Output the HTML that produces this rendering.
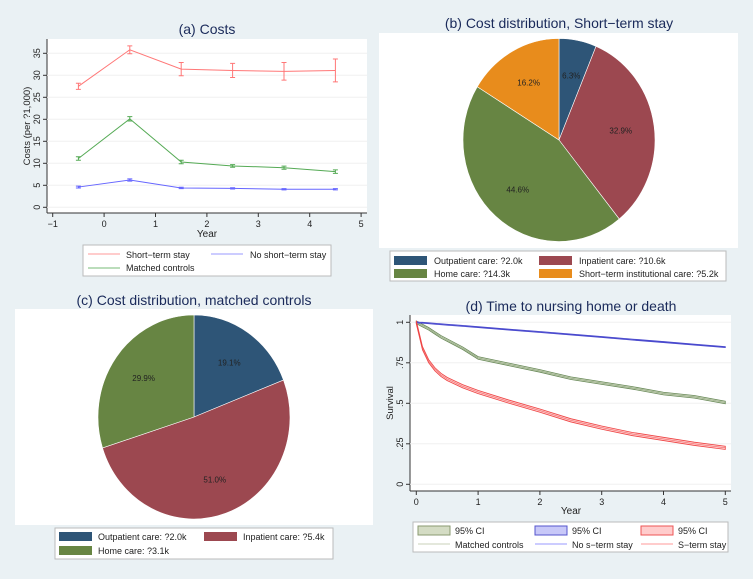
<!DOCTYPE html>
<html><head><meta charset="utf-8"><style>
body{margin:0;background:#eaf1f4;}
svg{display:block;font-family:"Liberation Sans",sans-serif;}
.t{fill:#1a2a5a;font-size:14px;text-anchor:middle}
.tk{font-size:9px;fill:#222}
.lg{font-size:9px;fill:#222}
</style></head><body>
<svg id="s" width="753" height="579" xmlns="http://www.w3.org/2000/svg">
<rect width="753" height="579" fill="#eaf1f4"/>
<!-- Panel a -->
<g>
<text class="t" x="207" y="34">(a) Costs</text>
<rect x="47" y="39" width="320" height="174" fill="#fff"/>
<g id="ga"></g>
<text x="207" y="237" font-size="10" text-anchor="middle" fill="#222">Year</text>
<text transform="translate(30,126) rotate(-90)" font-size="9.5" text-anchor="middle" fill="#222">Costs (per ?1,000)</text>
<rect x="83" y="245" width="248" height="31" fill="#fff" stroke="#bbb"/>
<line x1="88" y1="254" x2="120" y2="254" stroke="#f99"/>
<text class="lg" x="126" y="258">Short−term stay</text>
<line x1="211" y1="254" x2="243" y2="254" stroke="#99f"/>
<text class="lg" x="250" y="258">No short−term stay</text>
<line x1="88" y1="268" x2="120" y2="268" stroke="#7b7"/>
<text class="lg" x="126" y="271">Matched controls</text>
</g>
<!-- Panel b -->
<g>
<text class="t" x="559" y="28">(b) Cost distribution, Short−term stay</text>
<rect x="379" y="33" width="359" height="215" fill="#fff"/>
<g id="gb"></g>
<rect x="390" y="251" width="336" height="30" fill="#fff" stroke="#bbb"/>
<rect x="394" y="256" width="33" height="9" fill="#2e5577"/>
<text class="lg" x="434" y="264">Outpatient care: ?2.0k</text>
<rect x="539" y="256" width="33" height="9" fill="#9c4850"/>
<text class="lg" x="579" y="264">Inpatient care: ?10.6k</text>
<rect x="394" y="269" width="33" height="9" fill="#678543"/>
<text class="lg" x="434" y="277">Home care: ?14.3k</text>
<rect x="539" y="269" width="33" height="9" fill="#e88c1c"/>
<text class="lg" x="579" y="277">Short−term institutional care: ?5.2k</text>
</g>
<!-- Panel c -->
<g>
<text class="t" x="194" y="305">(c) Cost distribution, matched controls</text>
<rect x="15" y="309" width="358" height="216" fill="#fff"/>
<g id="gc"></g>
<rect x="55" y="528" width="278" height="31" fill="#fff" stroke="#bbb"/>
<rect x="59" y="532" width="33" height="9" fill="#2e5577"/>
<text class="lg" x="98" y="540">Outpatient care: ?2.0k</text>
<rect x="204" y="532" width="33" height="9" fill="#9c4850"/>
<text class="lg" x="243" y="540">Inpatient care: ?5.4k</text>
<rect x="59" y="546" width="33" height="9" fill="#678543"/>
<text class="lg" x="98" y="554">Home care: ?3.1k</text>
</g>
<!-- Panel d -->
<g>
<text class="t" x="571" y="311">(d) Time to nursing home or death</text>
<rect x="410" y="315" width="321" height="176" fill="#fff"/>
<g id="gd"></g>
<text x="571" y="514" font-size="10" text-anchor="middle" fill="#222">Year</text>
<text transform="translate(393,403) rotate(-90)" font-size="9.5" text-anchor="middle" fill="#222">Survival</text>
<rect x="413" y="522" width="315" height="30" fill="#fff" stroke="#bbb"/>
<rect x="418" y="526" width="32" height="9" fill="#d4dcc4" stroke="#8a9a70"/>
<text class="lg" x="455" y="534">95% CI</text>
<rect x="535" y="526" width="32" height="9" fill="#c8c8f8" stroke="#55c"/>
<text class="lg" x="572" y="534">95% CI</text>
<rect x="641" y="526" width="32" height="9" fill="#fcc" stroke="#e55"/>
<text class="lg" x="678" y="534">95% CI</text>
<line x1="418" y1="544" x2="450" y2="544" stroke="#c8d0b8"/>
<text class="lg" x="455" y="548">Matched controls</text>
<line x1="535" y1="544" x2="567" y2="544" stroke="#99f"/>
<text class="lg" x="572" y="548">No s−term stay</text>
<line x1="641" y1="544" x2="673" y2="544" stroke="#f99"/>
<text class="lg" x="678" y="548">S−term stay</text>
</g>
</svg>
<script>
const NS="http://www.w3.org/2000/svg";
// Panel a data
const years=[-0.5,0.5,1.5,2.5,3.5,4.5];
const shortCost=[27.5,35.8,31.4,31.1,30.9,31.1];
const shortCI=[0.7,0.9,1.5,1.6,2.0,2.6];
const matchedCost=[11.1,20.1,10.3,9.4,9.0,8.1];
const matchedCI=[0.4,0.5,0.4,0.3,0.35,0.4];
const noCost=[4.6,6.2,4.4,4.3,4.1,4.1];
const noCI=[0.2,0.25,0.15,0.15,0.15,0.15];
const xTicksA=[-1,0,1,2,3,4,5];
const yTicksA=[0,5,10,15,20,25,30,35];
// Panel b/c data
const pieBLabels=["6.3%","32.9%","44.6%","16.2%"];
const pieBValues=[6.3,32.9,44.6,16.2];
const pieCLabels=["19.1%","51.0%","29.9%"];
const pieCValues=[19.1,51.0,29.9];
// Panel d data
const survTimes=[0,0.05,0.1,0.2,0.3,0.4,0.5,0.75,1,1.5,2,2.5,3,3.5,4,4.5,5];
const survNo=[1,0.998,0.997,0.994,0.991,0.988,0.985,0.978,0.97,0.955,0.94,0.925,0.909,0.893,0.878,0.862,0.847];
const survMatched=[1,0.99,0.98,0.96,0.935,0.91,0.89,0.84,0.78,0.74,0.70,0.655,0.625,0.595,0.56,0.54,0.505];
const survShort=[1,0.92,0.84,0.76,0.71,0.675,0.65,0.605,0.57,0.51,0.455,0.395,0.35,0.31,0.28,0.25,0.225];
const xTicksD=[0,1,2,3,4,5];
const yTicksD=[0,0.25,0.5,0.75,1];
const yTickLabelsD=["0",".25",".5",".75","1"];

function mk(tag,attrs,parent){const e=document.createElementNS(NS,tag);for(const k in attrs)e.setAttribute(k,attrs[k]);parent.appendChild(e);return e;}

// Panel a
const ga=document.getElementById('ga');
const xa=v=>52.7+(v+1)*51.4, ya=v=>207.3-v*4.4;
mk('line',{x1:47,y1:213,x2:367,y2:213,stroke:'#333'},ga);
mk('line',{x1:47,y1:39,x2:47,y2:213,stroke:'#333'},ga);
yTicksA.forEach(t=>{
  const g=mk('line',{x1:47,x2:367,y1:ya(t),y2:ya(t),stroke:'#f0f0f0'},ga);
  
  
  mk('line',{x1:43,x2:47,y1:ya(t),y2:ya(t),stroke:'#333'},ga);
  const tx=mk('text',{class:'tk',transform:`translate(40,${ya(t)}) rotate(-90)`,'text-anchor':'middle'},ga);
  tx.textContent=t;
  
  
});
xTicksA.forEach(t=>{
  mk('line',{x1:xa(t),x2:xa(t),y1:213,y2:217,stroke:'#333'},ga);
  const tx=mk('text',{class:'tk',x:xa(t),y:227,'text-anchor':'middle'},ga);
  tx.textContent=t<0?'−'+(-t):t;
  
  
});
[[shortCost,shortCI,'#f77','short-term'],[matchedCost,matchedCI,'#5a5','matched'],[noCost,noCI,'#66f','no-short-term']].forEach(([vals,ci,col,nm])=>{
  const p=mk('polyline',{points:vals.map((v,i)=>xa(years[i])+','+ya(v)).join(' '),fill:'none',stroke:col,'stroke-width':1},ga);
  
  
  vals.forEach((v,i)=>{
    const x=xa(years[i]),y1=ya(v-ci[i]),y2=ya(v+ci[i]);
    const e=mk('path',{d:`M${x},${y1}V${y2}M${x-2.5},${y1}H${x+2.5}M${x-2.5},${y2}H${x+2.5}`,stroke:col,fill:'none'},ga);
    
    
  });
});

// Pies
function pie(g,vals,labels,cols,cx,cy,rx,ry){
  const tot=vals.reduce((a,b)=>a+b,0);let a0=0;
  vals.forEach((v,i)=>{
    const a1=a0+v/tot*2*Math.PI;
    const p0=[cx+rx*Math.sin(a0),cy-ry*Math.cos(a0)],p1=[cx+rx*Math.sin(a1),cy-ry*Math.cos(a1)];
    const s=mk('path',{d:`M${cx},${cy}L${p0[0]},${p0[1]}A${rx},${ry} 0 ${a1-a0>Math.PI?1:0} 1 ${p1[0]},${p1[1]}Z`,fill:cols[i],stroke:'#fff','stroke-width':0.6},g);
    
    
    const am=(a0+a1)/2;
    const t=mk('text',{x:cx+rx*0.65*Math.sin(am),y:cy-ry*0.65*Math.cos(am)+3,'font-size':8,'text-anchor':'middle',fill:'#222'},g);
    t.textContent=labels[i];
    
    
    a0=a1;
  });
}
pie(document.getElementById('gb'),pieBValues,pieBLabels,['#2e5577','#9c4850','#678543','#e88c1c'],559,140,96,101.5);
pie(document.getElementById('gc'),pieCValues,pieCLabels,['#2e5577','#9c4850','#678543'],194,417,96,102);

// Panel d
const gd=document.getElementById('gd');
const xd=v=>416.3+v*61.8, yd=v=>484.3-v*162;
mk('line',{x1:410,y1:491,x2:731,y2:491,stroke:'#333'},gd);
mk('line',{x1:410,y1:315,x2:410,y2:491,stroke:'#333'},gd);
yTicksD.forEach((t,i)=>{
  mk('line',{x1:410,x2:731,y1:yd(t),y2:yd(t),stroke:'#f0f0f0'},gd);
  mk('line',{x1:406,x2:410,y1:yd(t),y2:yd(t),stroke:'#333'},gd);
  const tx=mk('text',{class:'tk',transform:`translate(403,${yd(t)}) rotate(-90)`,'text-anchor':'middle'},gd);
  tx.textContent=yTickLabelsD[i];
  
  
});
xTicksD.forEach(t=>{
  mk('line',{x1:xd(t),x2:xd(t),y1:491,y2:495,stroke:'#333'},gd);
  const tx=mk('text',{class:'tk',x:xd(t),y:505,'text-anchor':'middle'},gd);
  tx.textContent=t;
  
  
});
function stepPts(vals,off){let s=[];survTimes.forEach((t,i)=>{s.push(xd(t)+','+yd(vals[i]+off));});return s;}
[[survMatched,0.008,'#d4dcc4','#6a8a5a','matched'],[survNo,0.003,'#c8c8f8','#44c','no-short-term'],[survShort,0.01,'#fcc','#e44','short-term']].forEach(([vals,w,fill,col,nm])=>{
  const up=stepPts(vals,w),dn=stepPts(vals,-w).reverse();
  const b=mk('polygon',{points:up.concat(dn).join(' '),fill:fill,stroke:col,'stroke-width':0.8},gd);
  
  
  const l=mk('polyline',{points:stepPts(vals,0).join(' '),fill:'none',stroke:col,'stroke-width':0.6,opacity:0.7},gd);
  
  
});
</script>
</body></html>
